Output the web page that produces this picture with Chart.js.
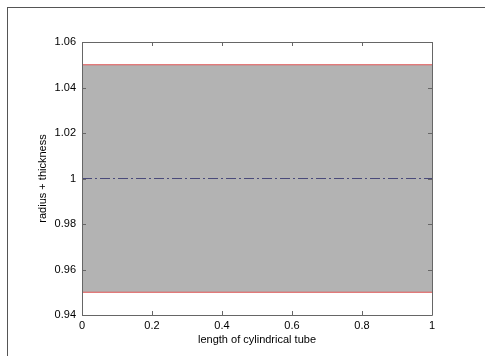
<!DOCTYPE html>
<html>
<head>
<meta charset="utf-8">
<script src="https://cdn.jsdelivr.net/npm/chart.js@4.4.1/dist/chart.umd.min.js"></script>
<style>
  html, body { margin: 0; padding: 0; background: #fff; }
  body { width: 485px; height: 356px; position: relative; overflow: hidden; }
  #frame {
    position: absolute; left: 7px; top: 7px; width: 600px; height: 500px;
    border-left: 1px solid #555; border-top: 1px solid #555;
  }
  #wrap { position: absolute; left: 0; top: 0; width: 485px; height: 356px; }
</style>
</head>
<body>
<div id="frame"></div>
<div id="wrap"><canvas id="chart"></canvas></div>
<script>
// data
const xVals = [0, 1];
const upperEdge = [1.05, 1.05];
const lowerEdge = [0.95, 0.95];
const centreLine = [1, 1];
const xTicks = [0, 0.2, 0.4, 0.6, 0.8, 1];
const yTicks = [0.94, 0.96, 0.98, 1, 1.02, 1.04, 1.06];

const toPoints = ys => xVals.map((x, i) => ({ x: x, y: ys[i] }));
const fmt = v => String(Number(v.toFixed(2)));

// box round the plot plus inward ticks on all four sides (matlab style)
const boxTicks = {
    id: 'boxTicks',
    afterDraw(chart) {
        const ctx = chart.ctx;
        const a = chart.chartArea;
        const xs = chart.scales.x, ys = chart.scales.y;
        const len = 4;
        ctx.save();
        ctx.strokeStyle = '#666';
        ctx.lineWidth = 1;
        ctx.beginPath();
        ctx.rect(Math.round(a.left) + 0.5, Math.round(a.top) + 0.5,
                 Math.round(a.right - a.left), Math.round(a.bottom - a.top));
        xTicks.forEach(v => {
            const px = Math.round(xs.getPixelForValue(v)) + 0.5;
            ctx.moveTo(px, a.bottom); ctx.lineTo(px, a.bottom - len);
            ctx.moveTo(px, a.top); ctx.lineTo(px, a.top + len);
        });
        yTicks.forEach(v => {
            const py = Math.round(ys.getPixelForValue(v)) + 0.5;
            ctx.moveTo(a.left, py); ctx.lineTo(a.left + len, py);
            ctx.moveTo(a.right, py); ctx.lineTo(a.right - len, py);
        });
        ctx.stroke();
        ctx.restore();
    }
};

Chart.defaults.font.family = '"Liberation Sans", Arial, sans-serif';
Chart.defaults.font.size = 11;
Chart.defaults.color = '#000';

new Chart(document.getElementById('chart'), {
    type: 'line',
    data: {
        datasets: [
            {
                label: 'upper',
                data: toPoints(upperEdge),
                borderColor: '#e05555',
                borderWidth: 1,
                pointRadius: 0,
                backgroundColor: '#b3b3b3',
                fill: 1
            },
            {
                label: 'lower',
                data: toPoints(lowerEdge),
                borderColor: '#e05555',
                borderWidth: 1,
                pointRadius: 0,
                fill: false
            },
            {
                label: 'centre',
                data: toPoints(centreLine),
                borderColor: '#4a4a7a',
                borderWidth: 1,
                borderDash: [10, 3, 2, 3],
                pointRadius: 0,
                fill: false
            }
        ]
    },
    options: {
        responsive: true,
        maintainAspectRatio: false,
        animation: false,
        layout: { padding: { left: 0, top: 42, right: 53, bottom: 0 } },
        plugins: {
            legend: { display: false },
            tooltip: { enabled: false },
            filler: { drawTime: 'beforeDatasetsDraw' }
        },
        scales: {
            x: {
                type: 'linear',
                min: 0,
                max: 1,
                afterBuildTicks: s => { s.ticks = xTicks.map(v => ({ value: v })); },
                afterFit: s => { s.height = 41; },
                grid: { display: false, drawTicks: false },
                border: { display: false },
                ticks: { padding: 4, maxRotation: 0, callback: v => fmt(v) },
                title: {
                    display: true,
                    text: 'length of cylindrical tube',
                    padding: { top: 1, bottom: 9 },
                    font: { size: 11 }
                }
            },
            y: {
                min: 0.94,
                max: 1.06,
                afterBuildTicks: s => { s.ticks = yTicks.map(v => ({ value: v })); },
                afterFit: s => { s.width = 82; },
                grid: { display: false, drawTicks: false },
                border: { display: false },
                ticks: { padding: 6, callback: v => fmt(v) },
                title: {
                    display: true,
                    text: 'radius + thickness',
                    padding: { top: 36, bottom: 0 },
                    font: { size: 11 }
                }
            }
        }
    },
    plugins: [boxTicks]
});
</script>
</body>
</html>
